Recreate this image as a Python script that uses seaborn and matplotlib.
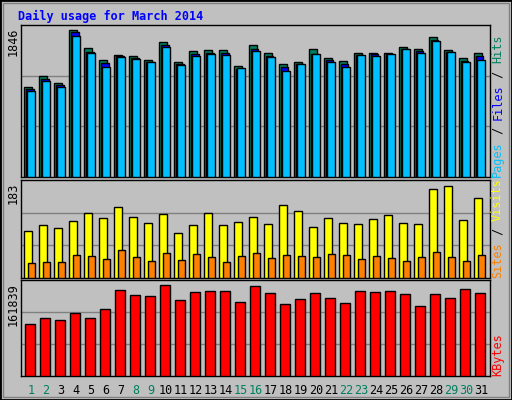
import matplotlib
matplotlib.use("Agg")
import matplotlib.pyplot as plt
import seaborn as sns
import pandas as pd
from matplotlib.patches import Rectangle

days = list(range(1, 32))
hits = [1128,1267,1179,1846,1619,1468,1535,1523,1468,1695,1443,1582,1594,1594,1393,1657,1556,1418,1443,1607,1493,1456,1556,1556,1556,1632,1607,1758,1594,1493,1556]
files = [1103,1229,1154,1821,1569,1431,1519,1493,1443,1657,1418,1544,1556,1556,1355,1607,1519,1380,1418,1544,1468,1418,1531,1544,1544,1607,1582,1720,1569,1456,1519]
pages = [1078,1204,1128,1770,1556,1380,1506,1481,1443,1632,1405,1519,1544,1531,1368,1582,1506,1330,1418,1544,1443,1380,1531,1519,1544,1607,1556,1707,1569,1443,1468]
sites = [93,105,99,113,129,119,141,121,109,127,90,105,129,105,111,121,107,145,133,101,119,109,107,117,125,109,107,177,183,115,159]
visits = [30,32,32,46,44,38,56,42,34,50,36,48,42,32,44,50,40,46,44,42,48,46,38,44,40,34,42,52,42,34,46]
kbytes = [92477,103147,99590,112039,103147,119153,152942,144050,142272,161839,135158,149386,151164,151164,131602,160056,147607,128045,136937,147607,138715,129823,151164,149386,151164,145829,124488,145829,138715,154721,147607]
weekend = [1, 2, 8, 9, 15, 16, 22, 23, 29, 30]
title = "Daily usage for March 2014"

BG = "#C0C0C0"
MONO = "DejaVu Sans Mono"
FS = 8.5
sns.set_style("white")
plt.rcParams['font.family'] = [MONO]

fig = plt.figure(figsize=(5.12, 4.0), dpi=100, facecolor=BG)
fig.patches.append(Rectangle((0, 0), 1, 1, transform=fig.transFigure, fill=False, ec="black", lw=2))
fig.patches.append(Rectangle((3/512, 3/400), 1 - 6/512, 1 - 6/400, transform=fig.transFigure, fill=False, ec="#808080", lw=1))

def mkax(top, bot):
    ax = fig.add_axes([21/512, (400 - bot)/400, 469/512, (bot - top)/400])
    ax.set_facecolor(BG)
    for s in ax.spines.values():
        s.set_color("black"); s.set_linewidth(1)
    return ax

df = pd.DataFrame(dict(day=days, hits=hits, files=files, pages=pages,
                       sites=sites, visits=visits, kbytes=kbytes))

def bars(ax, col, off, width, color):
    d = pd.DataFrame({"x": df["day"] + off, "y": df[col]})
    sns.barplot(data=d, x="x", y="y", native_scale=True, width=width, color=color,
                edgecolor="black", linewidth=1, saturation=1, ax=ax, zorder=3)

def finish(ax, ymax, label):
    ax.set_xlim(0.33, 31.6)
    ax.set_ylim(0, ymax)
    for f in (1/3, 2/3):
        ax.axhline(ymax * f, color="#808080", lw=1, zorder=1)
    ax.set_xticks([]); ax.set_yticks([])
    ax.set_xlabel(""); ax.set_ylabel("")
    ax.annotate(label, xy=(0, 1), xycoords="axes fraction", xytext=(-6, -2),
                textcoords="offset points", rotation=90, rotation_mode="anchor",
                ha="right", va="center", fontsize=FS, color="black")

def side(ax, parts):
    n = 0
    for txt, col in parts:
        ax.annotate(txt, xy=(1, 0), xycoords="axes fraction",
                    xytext=(5.5, n * 0.602 * FS), textcoords="offset points",
                    rotation=90, rotation_mode="anchor", ha="left", va="center",
                    fontsize=FS, color=col)
        n += len(txt)

ax1 = mkax(25, 177)
bars(ax1, "hits", -0.22, 0.53, "#00805F")
bars(ax1, "files", -0.1, 0.53, "#0000FF")
bars(ax1, "pages", 0.02, 0.53, "#00C0FF")
finish(ax1, 1846 * 152 / 146.7, "1846")
side(ax1, [("Pages", "#00C0FF"), (" / ", "black"), ("Files", "#0000FF"), (" / ", "black"), ("Hits", "#00805F")])

ax2 = mkax(180, 278)
bars(ax2, "sites", -0.2, 0.55, "#FFFF00")
bars(ax2, "visits", 0.05, 0.45, "#FF8000")
finish(ax2, 183 * 98 / 92, "183")
side(ax2, [("Sites", "#FF8000"), (" / ", "black"), ("Visits", "#FFFF00")])

ax3 = mkax(280, 376)
bars(ax3, "kbytes", -0.05, 0.66, "#FF0000")
finish(ax3, 161839 * 96 / 91, "161839")
side(ax3, [("KBytes", "#FF0000")])
ax3.set_xticks(days)
ax3.set_xticklabels([str(d) for d in days], fontsize=FS)
ax3.tick_params(axis="x", length=0, pad=6)
for lab, d in zip(ax3.get_xticklabels(), days):
    lab.set_color("#00805F" if d in weekend else "black")

fig.text(18/512, 1 - 16/400, title, fontsize=FS, fontweight="bold", color="#0000FF",
         va="center", ha="left")

fig.savefig("out.png", dpi=100, facecolor=BG)
